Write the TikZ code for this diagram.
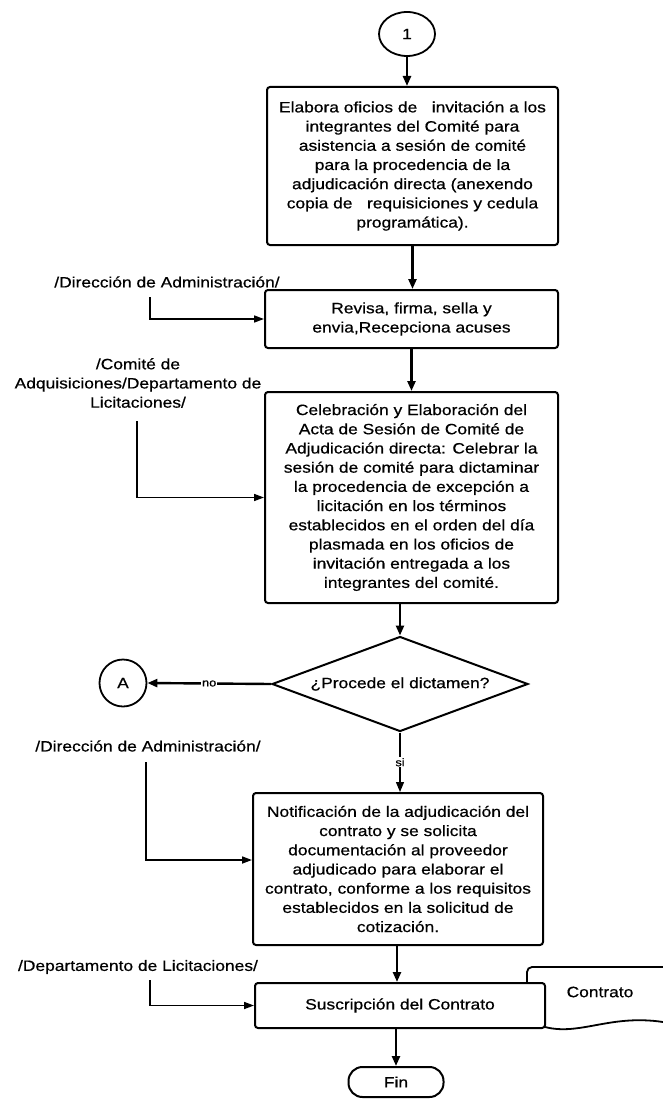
\documentclass[tikz,border=0pt]{standalone}
\usepackage{fontspec}
\setmainfont{Liberation Sans}[FakeStretch=1.16,FakeBold=0.6]
\usetikzlibrary{arrows.meta,shapes.geometric}
\begin{document}
\begin{tikzpicture}[x=1pt,y=-1pt,
  every node/.style={font=\fontsize{15}{19.2}\selectfont},
  box/.style={draw,line width=2pt,rounded corners=3pt,align=center,inner sep=2pt,fill=white},
  flow/.style={line width=2.4pt,-{Triangle[length=10pt,width=8pt]}},
  feed/.style={line width=1.6pt,-{Triangle[length=10pt,width=7pt]}},
  lbl/.style={align=center,inner sep=1pt},
  tiny/.style={font=\fontsize{11}{13}\selectfont,fill=white,inner sep=1pt}]
\useasboundingbox (0,0) rectangle (663,1099);

% connector 1
\node[draw,ellipse,line width=1.8pt,minimum width=56pt,minimum height=44pt,inner sep=0pt] (c1) at (407,34) {1};

\node[box,minimum width=291pt,minimum height=158pt] (b1) at (412.5,166) {Elabora oficios de~~ invitación a los\\integrantes del Comité para\\asistencia a sesión de comité\\para la procedencia de la\\adjudicación directa (anexendo\\copia de~~ requisiciones y cedula\\programática).};

\node[box,minimum width=293pt,minimum height=58pt] (b2) at (411.5,319) {Revisa, firma, sella y\\envia,Recepciona acuses};

\node[box,minimum width=293pt,minimum height=211pt] (b3) at (411.5,497.5) {Celebración y Elaboración del\\Acta de Sesión de Comité de\\Adjudicación directa: Celebrar la\\sesión de comité para dictaminar\\la procedencia de excepción a\\licitación en los términos\\establecidos en el orden del día\\plasmada en los oficios de\\invitación entregada a los\\integrantes del comité.};

\node[draw,diamond,line width=2pt,minimum width=256pt,minimum height=95pt,inner sep=0pt,aspect=2.7] (dia) at (400,684) {¿Procede el dictamen?};

\node[draw,circle,line width=1.8pt,minimum size=47pt,inner sep=0pt] (cA) at (123,683) {A};

\node[box,minimum width=290pt,minimum height=152pt] (b4) at (398,869) {Notificación de la adjudicación del\\contrato y se solicita\\documentación al proveedor\\adjudicado para elaborar el\\contrato, conforme a los requisitos\\establecidos en la solicitud de\\cotización.};

% document "Contrato"
\draw[line width=1.8pt,rounded corners=5pt] (663,967) -- (527,967) -- (527,1027) -- (545,1027);
\draw[line width=1.8pt] (545,1027) .. controls (580,1036) and (610,1014) .. (663,1022);
\node[inner sep=0pt] (doc) at (600,992) {Contrato};

\node[box,minimum width=290pt,minimum height=45pt] (b5) at (400,1005.5) {Suscripción del Contrato};

\node[draw,line width=2pt,rounded corners=14pt,minimum width=95pt,minimum height=30pt,inner sep=0pt] (fin) at (396,1082) {Fin};

% labels
\node[lbl] (l1) at (167,282) {/Dirección de Administración/};
\node[lbl] (l2) at (138,383) {/Comité de\\Adquisiciones/Departamento de\\Licitaciones/};
\node[lbl] (l3) at (148,746) {/Dirección de Administración/};
\node[lbl] (l4) at (138,967) {/Departamento de Licitaciones/};

\coordinate (l1s) at (150,297);
\coordinate (l2s) at (137,421);
\coordinate (l3s) at (146,762);
\coordinate (l3e) at (146,860);
\coordinate (l4s) at (150,980);

% main flow
\draw[flow] (c1.south) -- (c1.south |- b1.north);
\draw[flow] (b1.south) -- (b1.south |- b2.north);
\draw[flow] (b2.south) -- (b2.south |- b3.north);
\draw[flow] (dia.north |- b3.south) -- (dia.north);
\draw[flow] (dia.west) -- node[tiny]{no} (cA.east);
\draw[line width=1.3pt,-{Triangle[length=10pt,width=8pt]}] (dia.south) -- node[tiny]{si} (dia.south |- b4.north);
\draw[flow] (b4.south -| b5.north) ++(-3,0) coordinate (b4o) -- (b4o |- b5.north);
\draw[flow] (fin.north |- b5.south) -- (fin.north);

% feeds
\draw[feed] (l1s) |- (b2.west);
\draw[feed] (l2s) |- (b3.west);
\draw[feed] (l3s) |- (l3e -| b4.west);
\draw[feed] (l4s) |- (b5.west);
\end{tikzpicture}
\end{document}
